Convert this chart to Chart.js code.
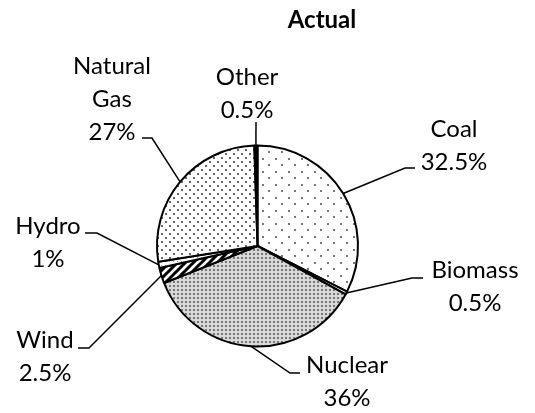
<!DOCTYPE html>
<html>
<head>
<meta charset="utf-8">
<script src="https://cdn.jsdelivr.net/npm/chart.js@4"></script>
<style>
  html, body { margin: 0; padding: 0; background: #fff; }
  #wrap { width: 535px; height: 413px; position: relative; }
</style>
</head>
<body>
<div id="wrap"><canvas id="chart"></canvas></div>
<script>
const chartTitle = "Actual";
const categories = ["Coal", "Biomass", "Nuclear", "Wind", "Hydro", "Natural Gas", "Other"];
const values = [32.5, 0.5, 36, 2.5, 1, 27, 0.5];
const pctLabels = ["32.5%", "0.5%", "36%", "2.5%", "1%", "27%", "0.5%"];

// where each label sits, and the bend of its leader line
const labelLayout = [
  { x: 454, y: 129, elbow: [405, 168], end: [415, 168] },
  { x: 475, y: 270, elbow: [412, 278], end: [423, 278] },
  { x: 347, y: 365, elbow: [290, 373], end: [300, 373] },
  { x: 45, y: 340, elbow: [89, 348], end: [78, 348] },
  { x: 48, y: 226, elbow: [97, 233], end: [85, 233] },
  { x: 112, y: 66, elbow: [152, 138], end: [142, 138], wrap: true },
  { x: 247, y: 77, elbow: [256, 122], end: [256, 122] }
];
const lineGap = 33;
const labelFont = "24px Lato, 'Open Sans', sans-serif";

function makePattern(size, draw) {
  const c = document.createElement("canvas");
  c.width = size; c.height = size;
  const g = c.getContext("2d");
  g.fillStyle = "#fff";
  g.fillRect(0, 0, size, size);
  draw(g);
  return document.createElement("canvas").getContext("2d").createPattern(c, "repeat");
}

const coalFill = makePattern(13, g => {
  g.fillStyle = "#777";
  g.fillRect(2, 2, 2, 2);
  g.fillRect(8, 8, 2, 2);
});
const gasFill = makePattern(8, g => {
  g.fillStyle = "#666";
  g.fillRect(1, 1, 2, 2);
  g.fillRect(5, 5, 2, 2);
});
const nuclearFill = makePattern(4, g => {
  g.fillStyle = "#d8d8d8";
  g.fillRect(0, 0, 4, 4);
  g.fillStyle = "#777";
  g.fillRect(1, 1, 2, 2);
});
const windFill = makePattern(8, g => {
  g.strokeStyle = "#000";
  g.lineWidth = 3;
  g.beginPath();
  g.moveTo(-2, 10); g.lineTo(10, -2);
  g.moveTo(6, 10); g.lineTo(10, 6);
  g.moveTo(-2, 2); g.lineTo(2, -2);
  g.stroke();
});
const hydroFill = makePattern(4, g => {
  g.fillStyle = "#999";
  g.fillRect(1, 1, 1, 1);
});

const fills = [coalFill, "#fff", nuclearFill, windFill, hydroFill, gasFill, "#000"];

const labelPlugin = {
  id: "labels",
  afterDraw(chart) {
    const ctx = chart.ctx;
    const arcs = chart.getDatasetMeta(0).data;
    ctx.save();

    ctx.fillStyle = "#000";
    ctx.textAlign = "center";
    ctx.textBaseline = "alphabetic";
    ctx.font = "bold 24px Lato, 'Open Sans', sans-serif";
    ctx.fillText(chartTitle, 322, 28);

    ctx.font = labelFont;
    ctx.textBaseline = "middle";
    ctx.strokeStyle = "#000";
    ctx.lineWidth = 1.5;
    arcs.forEach((arc, i) => {
      const lay = labelLayout[i];
      const lines = lay.wrap ? categories[i].split(" ") : [categories[i]];
      lines.push(pctLabels[i]);
      lines.forEach((t, k) => ctx.fillText(t, lay.x, lay.y + k * lineGap));

      const mid = (arc.startAngle + arc.endAngle) / 2;
      const px = arc.x + Math.cos(mid) * arc.outerRadius;
      const py = arc.y + Math.sin(mid) * arc.outerRadius;
      ctx.beginPath();
      ctx.moveTo(px, py);
      ctx.lineTo(lay.elbow[0], lay.elbow[1]);
      ctx.lineTo(lay.end[0], lay.end[1]);
      ctx.stroke();
    });
    ctx.restore();
  }
};

new Chart(document.getElementById("chart"), {
  type: "pie",
  data: {
    labels: categories,
    datasets: [{
      data: values,
      backgroundColor: fills,
      borderColor: "#000",
      borderWidth: 2
    }]
  },
  options: {
    responsive: true,
    maintainAspectRatio: false,
    animation: false,
    layout: { padding: { left: 156, right: 176, top: 144, bottom: 65 } },
    plugins: {
      legend: { display: false },
      title: { display: false },
      tooltip: { enabled: false }
    }
  },
  plugins: [labelPlugin]
});
</script>
</body>
</html>
